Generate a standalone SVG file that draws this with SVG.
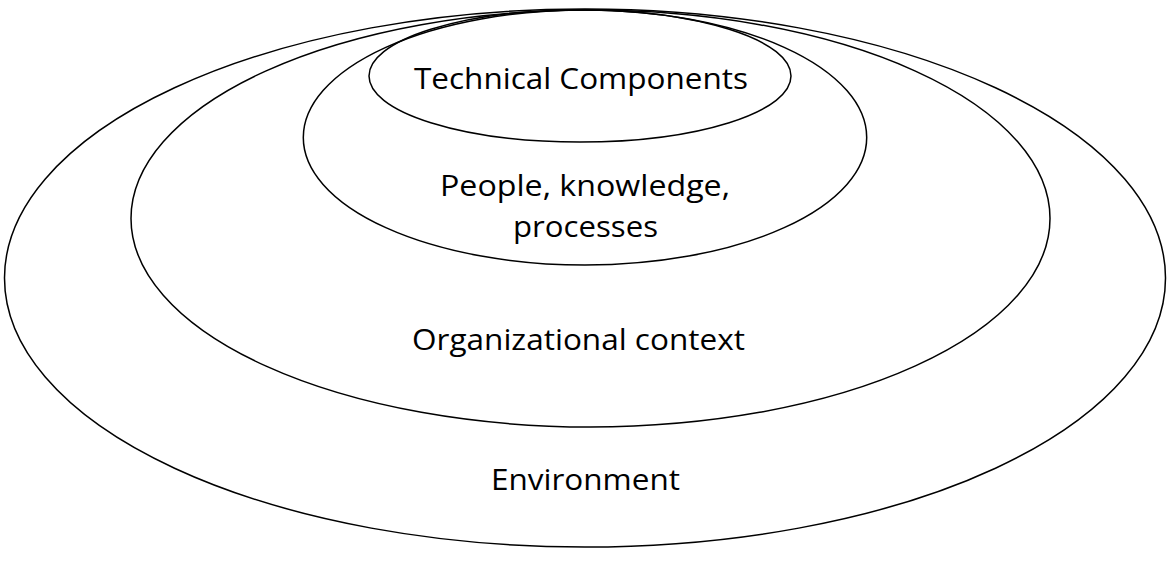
<svg xmlns="http://www.w3.org/2000/svg" width="1176" height="578" viewBox="0 0 1176 578">
<style>
.e{fill:none;stroke:#000;stroke-width:1.5}
.t{font-family:"Open Sans","Liberation Sans",sans-serif;font-size:30px;fill:#000;text-anchor:middle}
</style>
<rect width="1176" height="578" fill="#fff"/>
<g id="environment">
<ellipse class="e" cx="585" cy="278" rx="580.5" ry="269"/>
<text class="t" x="585.5" y="490" textLength="189" lengthAdjust="spacingAndGlyphs">Environment</text>
</g>
<g id="organizational-context">
<ellipse class="e" cx="590.5" cy="218.5" rx="459.5" ry="208.5"/>
<text class="t" x="578.5" y="350" textLength="333" lengthAdjust="spacingAndGlyphs">Organizational context</text>
</g>
<g id="people">
<ellipse class="e" cx="585" cy="137.5" rx="281.7" ry="127.5"/>
<text class="t" x="585" y="196" textLength="290" lengthAdjust="spacingAndGlyphs">People, knowledge,</text>
<text class="t" x="585.5" y="237" textLength="145" lengthAdjust="spacingAndGlyphs">processes</text>
</g>
<g id="technical">
<ellipse class="e" cx="580" cy="76" rx="211" ry="66"/>
<text class="t" x="581" y="89" textLength="334" lengthAdjust="spacingAndGlyphs">Technical Components</text>
</g>
<g id="connectors"/>
</svg>
